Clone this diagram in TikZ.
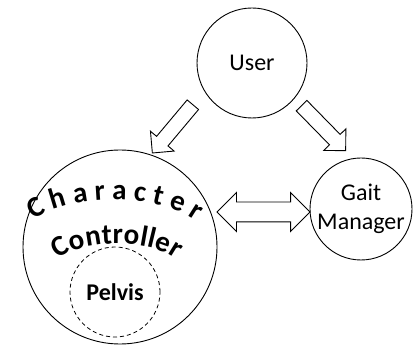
\documentclass[tikz,border=0pt]{standalone}
\usepackage{fontspec}
\setmainfont{Carlito}
\usetikzlibrary{shapes.arrows,decorations.text}
\begin{document}
\begin{tikzpicture}[x=1pt,y=1pt,
  bubble/.style={circle,draw,line width=0.9pt,inner sep=0pt,align=center,font=\fontsize{24}{29}\selectfont},
  sarrow/.style={single arrow,draw,line width=0.9pt,inner xsep=0pt,inner ysep=7pt,minimum height=63pt,single arrow head extend=8pt},
  darrow/.style={double arrow,draw,line width=0.9pt,inner xsep=0pt,inner ysep=9.5pt,minimum height=93pt,double arrow head extend=9.5pt}]
\useasboundingbox (0,0) rectangle (414,345);
\node[bubble,minimum size=110pt] (user) at (252,282) {User};
\node[bubble,minimum size=194pt] (cc) at (120,98) {};
\node[bubble,minimum size=102pt] (gait) at (361,136) {Gait\\Manager};
\node[circle,draw,dashed,dash pattern=on 4pt off 3pt,line width=0.8pt,minimum size=90pt,inner sep=0pt,font=\fontsize{24}{24}\selectfont\bfseries] (pelvis) at (115,53) {Pelvis};
\node[sarrow,rotate=230] (a1) at (175,219) {};
\node[sarrow,rotate=-45.6] (a2) at (321,219.5) {};
\node[darrow] (a3) at (263.5,133) {};
\path[decorate,decoration={text along path,text align=fit to path,
  text={|\fontsize{29}{29}\selectfont\bfseries|Character}}]
  (114,103) ++(148:95 and 42) arc[start angle=148,end angle=30,x radius=95,y radius=42];
\path[decorate,decoration={text along path,text align=fit to path,
  text={|\fontsize{29}{29}\selectfont\bfseries|Controller}}]
  (117,72) ++(152:67 and 29) arc[start angle=152,end angle=28,x radius=67,y radius=29];
\end{tikzpicture}
\end{document}
